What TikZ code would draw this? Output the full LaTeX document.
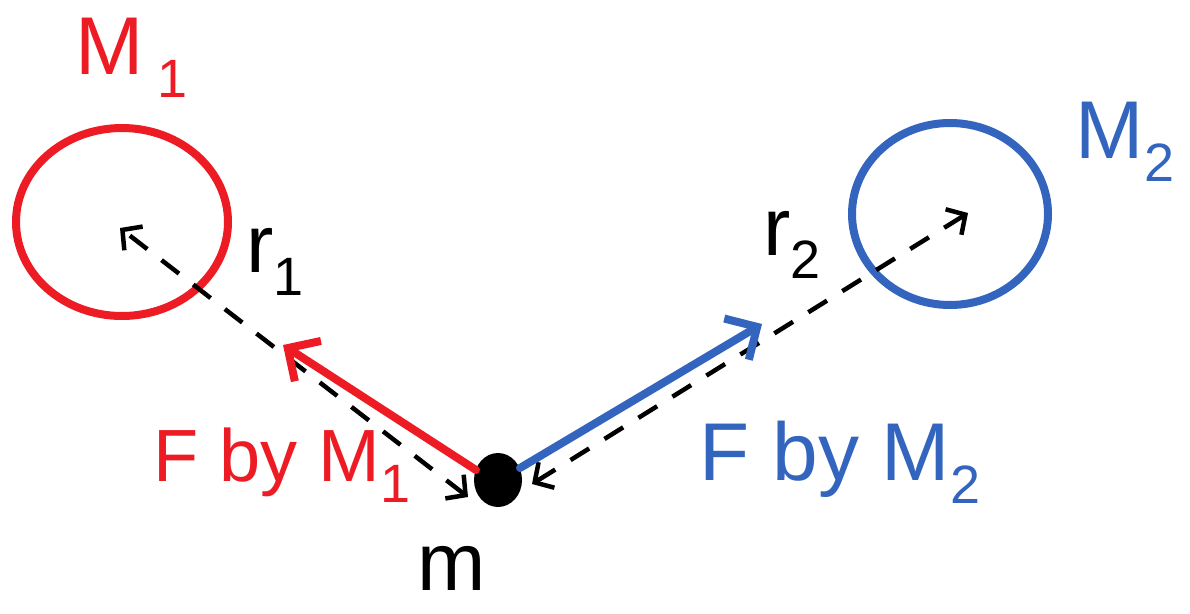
\documentclass[tikz,border=0pt]{standalone}
\usepackage{fontspec}
\setmainfont{Liberation Sans}
\usetikzlibrary{arrows.meta}
\definecolor{hred}{HTML}{ED1C24}
\definecolor{hblue}{HTML}{3465BE}
\newcommand\hsub[1]{\raisebox{-0.28em}{\fontsize{54}{60}\selectfont #1}}
\tikzset{
  body/.style={line width=8pt},
  force/.style={line width=8pt, line cap=round, -{Straight Barb[length=24pt,width=48pt,line width=8pt]}},
  radius line/.style={line width=4.5pt, dash pattern=on 22pt off 18pt, {Straight Barb[length=14pt,width=30pt,line width=4.5pt]}-{Straight Barb[length=14pt,width=30pt,line width=4.5pt]}},
  lbl/.style={font=\fontsize{82}{90}\selectfont, inner sep=0pt},
  flbl/.style={font=\fontsize{74}{80}\selectfont, inner sep=0pt}
}
\begin{document}
\begin{tikzpicture}[x=1pt,y=-1pt]
\useasboundingbox (0,0) rectangle (1190,613);
% bodies
\draw[hred,body] (122,222) ellipse [x radius=106, y radius=94];
\draw[hblue,body] (950,214) ellipse [x radius=98, y radius=91];
\fill[black] (498,480) ellipse [x radius=24, y radius=27];
\node (m) at (498,480) {};
\coordinate (c1) at (120,228);
\coordinate (c2) at (968,213);
\coordinate (e1) at (468,497);
\coordinate (e2) at (532,484);
% radius lines
\draw[radius line] (e1) -- (c1);
\draw[radius line] (e2) -- (c2);
% forces
\coordinate (f1s) at (476,470);
\coordinate (f1e) at (283,345);
\coordinate (f2s) at (520,468);
\coordinate (f2e) at (762,324);
\draw[hred,force] (f1s) -- (f1e);
\draw[hblue,force] (f2s) -- (f2e);
% labels
\node[lbl,hred] (M1) at (132,58) {M\,\hsub{1}};
\node[lbl,hblue] (M2) at (1125,142) {M\hsub{2}};
\node[lbl] (r1) at (275,262) {r\hsub{1}};
\node[lbl] (r2) at (792,245) {r\hsub{2}};
\node[flbl,hred] (F1) at (282,465) {F by M\hsub{1}};
\node[lbl,hblue] (F2) at (840,462) {F by M\hsub{2}};
\node[lbl] (mlbl) at (452,568) {m};
\end{tikzpicture}
\end{document}
